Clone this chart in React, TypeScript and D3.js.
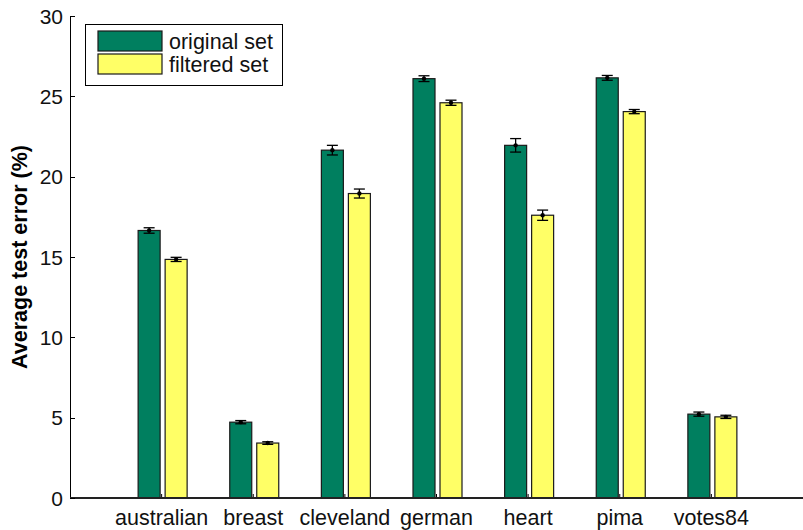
import React from "react";
import * as d3 from "d3";

// Datasets and mean test error (%) with error-bar half-widths
const categories = ["australian", "breast", "cleveland", "german", "heart", "pima", "votes84"];
const originalMean = [16.65, 4.72, 21.65, 26.1, 21.95, 26.15, 5.22];
const originalErr = [0.17, 0.1, 0.3, 0.18, 0.42, 0.15, 0.13];
const filteredMean = [14.85, 3.42, 18.95, 24.6, 17.6, 24.05, 5.05];
const filteredErr = [0.13, 0.08, 0.28, 0.16, 0.32, 0.13, 0.1];
const yTicks = [0, 5, 10, 15, 20, 25, 30];
const seriesNames = ["original set", "filtered set"];
const seriesColors = ["#007f5f", "#ffff66"];

const W = 803;
const H = 530;
const left = 70;
const right = 803;
const top = 16;
const bottom = 498;

export default function App() {
  const x = d3.scaleLinear().domain([0, 8]).range([left, right]);
  const y = d3.scaleLinear().domain([0, 30]).range([bottom, top]);
  const barW = 22;
  const font = "'Liberation Sans', Arial, Helvetica, sans-serif";

  const series = [
    { mean: originalMean, err: originalErr, offset: -24 },
    { mean: filteredMean, err: filteredErr, offset: 3 },
  ];

  return (
    <svg width={W} height={H} style={{ position: "absolute", left: 0, top: 0 }} fontFamily={font}>
      <rect x={0} y={0} width={W} height={H} fill="#fff" />
      {/* bars */}
      {series.map((s, si) =>
        categories.map((c, i) => {
          const cx = x(i + 1);
          const x0 = cx + s.offset;
          const yt = y(s.mean[i]);
          return (
            <rect
              key={`${si}-${c}`}
              x={x0 + 0.5}
              y={yt}
              width={barW}
              height={y(0) - yt}
              fill={seriesColors[si]}
              stroke="#1a1a1a"
              strokeWidth={1.2}
            />
          );
        })
      )}
      {/* error bars */}
      {series.map((s, si) =>
        categories.map((c, i) => {
          const mx = x(i + 1) + s.offset + barW / 2 + 0.5;
          const y1 = y(s.mean[i] + s.err[i]);
          const y2 = y(s.mean[i] - s.err[i]);
          const ym = y(s.mean[i]);
          return (
            <g key={`e${si}-${c}`} stroke="#000" strokeWidth={1.3}>
              <line x1={mx} x2={mx} y1={y1} y2={y2} />
              <line x1={mx - 5.5} x2={mx + 5.5} y1={y1} y2={y1} />
              <line x1={mx - 5.5} x2={mx + 5.5} y1={y2} y2={y2} />
              <circle cx={mx} cy={ym} r={2.2} fill="#000" stroke="none" />
            </g>
          );
        })
      )}
      {/* x category ticks */}
      {categories.map((c, i) => (
        <line key={`t${c}`} x1={x(i + 1)} x2={x(i + 1)} y1={bottom} y2={bottom - 4} stroke="#000" strokeWidth={1} />
      ))}
      {/* axes */}
      <line x1={left + 0.5} x2={left + 0.5} y1={top} y2={bottom} stroke="#000" strokeWidth={1} />
      <line x1={left} x2={right} y1={bottom} y2={bottom} stroke="#222" strokeWidth={2} />
      {yTicks.map((t) => (
        <g key={`y${t}`}>
          <line x1={left} x2={left + 5} y1={Math.round(y(t)) + 0.5} y2={Math.round(y(t)) + 0.5} stroke="#000" strokeWidth={1} />
          <text x={left - 7} y={y(t) + 7.5} textAnchor="end" fontSize={21} fill="#111">
            {t}
          </text>
        </g>
      ))}
      {categories.map((c, i) => (
        <text key={`l${c}`} x={x(i + 1)} y={525} textAnchor="middle" fontSize={21.5} fill="#111">
          {c}
        </text>
      ))}
      <text
        transform={`translate(27, 257) rotate(-90)`}
        textAnchor="middle"
        fontSize={21.5}
        fontWeight="bold"
        fill="#000"
      >
        Average test error (%)
      </text>
      {/* legend */}
      <g>
        <rect x={85.5} y={24.5} width={197} height={61} fill="#fff" stroke="#000" strokeWidth={1} />
        {seriesNames.map((n, k) => (
          <g key={n}>
            <rect x={98} y={31 + k * 23} width={64} height={20} fill={seriesColors[k]} stroke="#1a1a1a" strokeWidth={1.2} />
            <text x={169} y={49 + k * 23} fontSize={21.5} fill="#111">
              {n}
            </text>
          </g>
        ))}
      </g>
    </svg>
  );
}
